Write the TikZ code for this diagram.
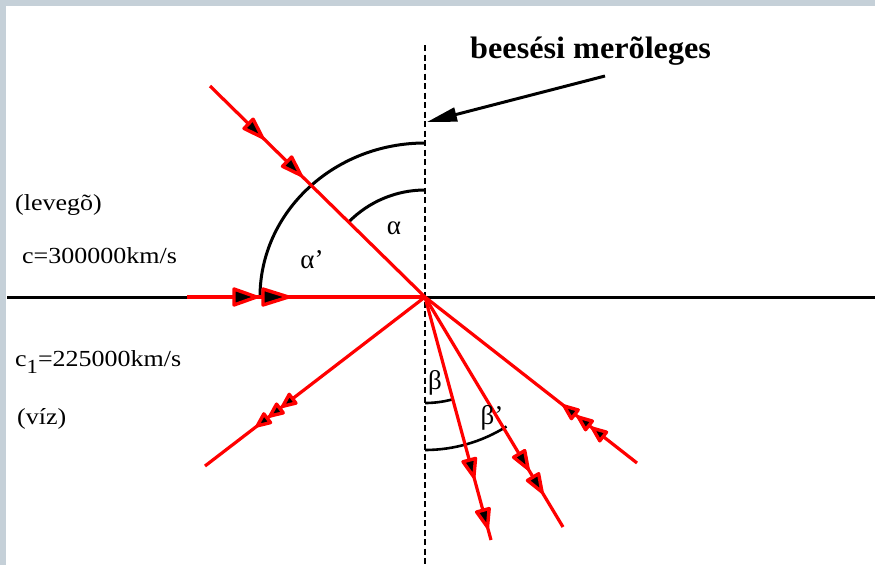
\documentclass[tikz,border=0pt]{standalone}
\usepackage{fontspec}
\setmainfont{Liberation Serif}
\usetikzlibrary{arrows.meta,decorations.markings}
\definecolor{framecol}{HTML}{C5D0D8}
\newcommand{\hd}[2]{\filldraw[draw=red,fill=black,line width=3.4pt,line join=round] (-1.5pt,0pt) -- (-#1pt,#2pt) -- (-#1pt,-#2pt) -- cycle;}
\newcommand{\wtxt}[1]{\scalebox{1.13}[1]{#1}}
\begin{document}
\begin{tikzpicture}[x=1pt,y=-1pt,
  ray/.style={draw=red,line width=3.2pt},
  axisline/.style={draw=black,line width=3pt},
  arcline/.style={draw=black,line width=3pt},
  perp/.style={draw=black,line width=1.1pt,dash pattern=on 6pt off 3.5pt},
  lbl/.style={font=\fontsize{23}{26}\selectfont,inner sep=0pt,anchor=base west},
  glbl/.style={font=\fontsize{27}{30}\selectfont,inner sep=0pt},
  heads/.style={postaction={decorate,decoration={markings,#1}}}]
\useasboundingbox (0,0) rectangle (875,565);
\fill[framecol] (0,0) rectangle (875,565);
\fill[white] (6,6) rectangle (875,565);
% points
\coordinate (O) at (425,297);
\coordinate (Ptop) at (425,45);
\coordinate (Pbot) at (425,565);
\coordinate (Hl) at (7,297);
\coordinate (Hr) at (875,297);
\coordinate (A) at (210,86);
\coordinate (G) at (187,297);
\coordinate (R) at (205,466);
\coordinate (B1) at (491,540);
\coordinate (B2) at (563,527);
\coordinate (W) at (637,463);
\coordinate (Pa) at (605,76);
\coordinate (Pb) at (427,122);
% perpendicular and boundary
\draw[perp] (Ptop) -- (Pbot);
\draw[axisline] (Hl) -- (Hr);
% arcs
\draw[arcline] (425,143) arc[start angle=-90,end angle=-180,x radius=165,y radius=154];
\draw[arcline] (425,190) arc[start angle=-90,end angle=-135.5,radius=107];
\draw[arcline,line width=2.6pt] (425,403) arc[start angle=90,end angle=75,radius=106];
\draw[arcline,line width=2.6pt] (425,450) arc[start angle=90,end angle=57.8,radius=153];
% rays
\draw[ray,heads={mark=at position 75pt with {\hd{21}{6.5}},mark=at position 129pt with {\hd{21}{6.5}}}] (A) -- (O);
\draw[ray,heads={mark=at position 71pt with {\hd{24}{8}},mark=at position 103pt with {\hd{27}{8}}}] (G) -- (O);
\draw[ray,heads={mark=at position 181pt with {\hd{14}{5.5}},mark=at position 197pt with {\hd{14}{5.5}},mark=at position 213pt with {\hd{14}{5.5}}}] (O) -- (R);
\draw[ray,heads={mark=at position 58pt with {\hd{15}{5.5}},mark=at position 76pt with {\hd{15}{5.5}},mark=at position 94pt with {\hd{15}{5.5}}}] (W) -- (O);
\draw[ray,heads={mark=at position 188pt with {\hd{19}{6.5}},mark=at position 240pt with {\hd{19}{6.5}}}] (O) -- (B1);
\draw[ray,heads={mark=at position 202pt with {\hd{19}{6.5}},mark=at position 229pt with {\hd{19}{6.5}}}] (O) -- (B2);
% pointer
\draw[line width=3pt,-{Triangle[length=30pt,width=14pt]}] (Pa) -- (Pb);
% labels
\node[font=\fontsize{31}{36}\selectfont\bfseries,inner sep=0pt,anchor=base west] (title) at (470,58) {\scalebox{1.04}[1]{beesési merõleges}};
\node[lbl] (lev) at (15,210) {\wtxt{(levegõ)}};
\node[lbl] (c0) at (22,263) {\wtxt{c=300000km/s}};
\node[lbl] (c1) at (15,366) {\wtxt{c\raisebox{-7pt}{\fontsize{20}{20}\selectfont 1}=225000km/s}};
\node[lbl] (viz) at (17,424) {\wtxt{(víz)}};
\node[glbl] (alpha) at (394,228) {α};
\node[glbl] (alphap) at (312,260) {α’};
\node[glbl] (beta) at (435,383) {β};
\node[glbl] (betap) at (492,418) {β’};
\end{tikzpicture}
\end{document}
